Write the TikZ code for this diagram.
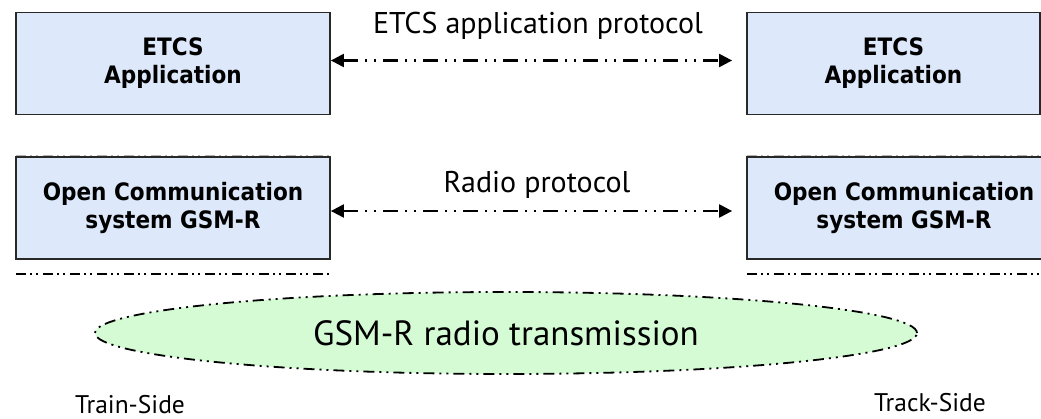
\documentclass[tikz,border=0pt]{standalone}
\usepackage{fontspec}
\setmainfont{PT Sans}
\newfontfamily\boxfont{DejaVu Sans Condensed}
\usetikzlibrary{arrows.meta,shapes.geometric}

\definecolor{boxblue}{RGB}{221,233,250}
\definecolor{radiogreen}{RGB}{212,251,212}
\definecolor{boxedge}{RGB}{40,40,40}

\tikzset{
  layerbox/.style={draw=boxedge, line width=1.8pt, fill=boxblue,
    minimum width=314pt, minimum height=102pt, align=center,
    font=\boxfont\bfseries\fontsize{24}{28}\selectfont},
  protoline/.style={line width=2.2pt,
    dash pattern=on 15pt off 7pt on 2pt off 7pt on 2pt off 7pt,
    {Triangle[length=13pt,width=13pt]}-{Triangle[length=13pt,width=13pt]}},
  protolabel/.style={font=\fontsize{30}{34}\selectfont, inner sep=0pt},
  sidelabel/.style={font=\fontsize{25.5}{30}\selectfont, inner sep=0pt},
  sysline/.style={line width=1.8pt,
    dash pattern=on 10pt off 4pt on 2pt off 4pt on 2pt off 5pt},
  seam/.style={line width=1pt, gray!60,
    dash pattern=on 10pt off 4pt on 2pt off 4pt on 2pt off 5pt},
  radiocloud/.style={ellipse, draw, fill=radiogreen, line width=1.8pt,
    dash pattern=on 11pt off 5pt on 2pt off 5pt on 2pt off 5pt,
    minimum width=822pt, minimum height=82pt, inner sep=0pt,
    font=\fontsize{35}{40}\selectfont}
}

\begin{document}
\begin{tikzpicture}[x=1pt,y=-1pt]
\useasboundingbox (0,0) rectangle (1041,419);

% application layer
\node[layerbox] (appT) at (173,63.5) {ETCS\\Application};
\node[layerbox, minimum width=293pt] (appG) at (893.5,63.5) {ETCS\\Application};

% communication layer, with the seam above it
\draw[seam] (16,155.5) -- (330,155.5);
\draw[seam] (747,155.5) -- (1041,155.5);
\node[layerbox] (comT) at (173,208) {Open Communication\\system GSM-R};
\node[layerbox] (comG) at (904,208) {Open Communication\\system GSM-R};

% lower boundary of each system
\coordinate (bT1) at (16,274);   \coordinate (bT2) at (330,274);
\coordinate (bG1) at (747,274);  \coordinate (bG2) at (1041,274);
\draw[sysline] (bT1) -- (bT2);
\draw[sysline] (bG1) -- (bG2);

% peer protocols
\draw[protoline, shorten >=14pt] ([yshift=3pt]appT.east) -- ([yshift=3pt]appG.west);
\node[protolabel] (appP) at (538,26) {ETCS application protocol};
\draw[protoline, shorten >=14pt] ([yshift=-3pt]comT.east) -- ([yshift=-3pt]comG.west);
\node[protolabel] (radP) at (537,185) {Radio protocol};

% air interface
\node[radiocloud] (air) at (506,333) {GSM-R radio transmission};

\node[sidelabel] (train) at (130,405) {Train-Side};
\node[sidelabel] (track) at (930,403) {Track-Side};
\end{tikzpicture}
\end{document}
